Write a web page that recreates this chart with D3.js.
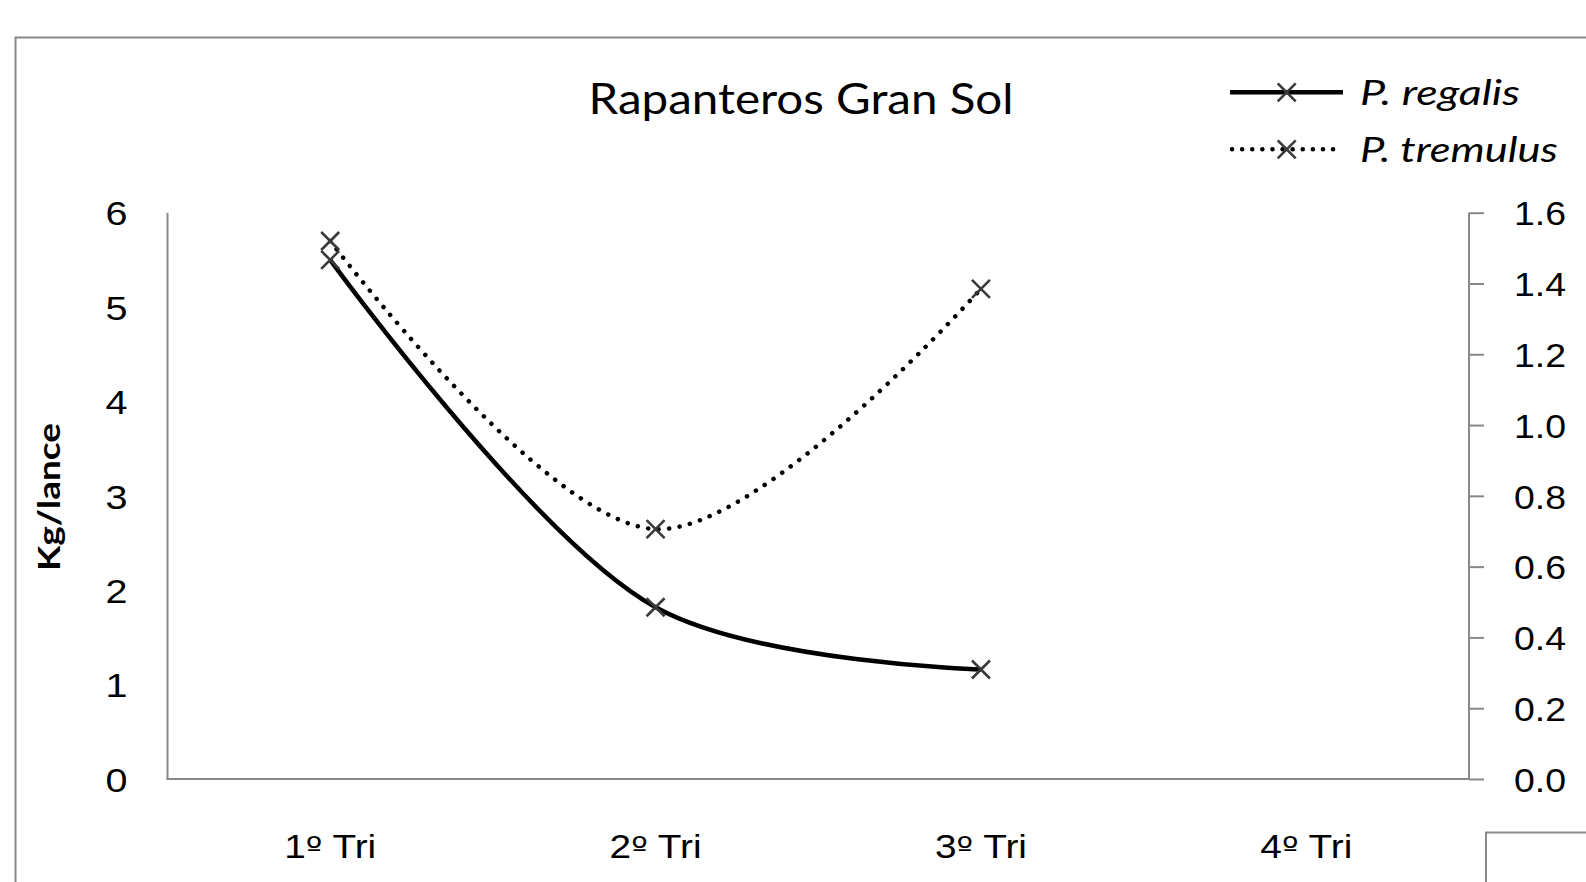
<!DOCTYPE html>
<html><head><meta charset="utf-8">
<script src="https://cdn.jsdelivr.net/npm/d3@7"></script>
<style>
html,body{margin:0;padding:0;background:#fff;}
svg{display:block;font-family:Lato,"Open Sans",sans-serif;}
</style></head>
<body>
<svg id="chart" width="1586" height="882"></svg>
<script>
const categories = ["1º Tri", "2º Tri", "3º Tri", "4º Tri"];
const regalis = [5.50, 1.82, 1.16];    // left axis (Kg/lance)
const tremulus = [1.52, 0.706, 1.385]; // right axis
const leftTicks = [0, 1, 2, 3, 4, 5, 6];
const rightTicks = [0, 0.2, 0.4, 0.6, 0.8, 1.0, 1.2, 1.4, 1.6];
const seriesNames = ["P. regalis", "P. tremulus"];
const title = "Rapanteros Gran Sol";
const yTitle = "Kg/lance";

const svg = d3.select("#chart");
const axisColor = "#898989";
const markColor = "#3a3a3a";
const L = 167.5, R = 1469, T = 212.7, B = 779;

// outer frame
svg.append("rect").attr("x", 15.5).attr("y", 37.5).attr("width", 1700).attr("height", 1000)
  .attr("fill", "none").attr("stroke", axisColor).attr("stroke-width", 2);
svg.append("rect").attr("x", 1486).attr("y", 832.5).attr("width", 300).attr("height", 200)
  .attr("fill", "none").attr("stroke", axisColor).attr("stroke-width", 2);

const x = d3.scaleBand().domain(categories).range([L, R]);
const yL = d3.scaleLinear().domain([0, 6]).range([B, T]);
const yR = d3.scaleLinear().domain([0, 1.6]).range([B, T]);

svg.append("line").attr("x1", L).attr("x2", L).attr("y1", T).attr("y2", B)
  .attr("stroke", axisColor).attr("stroke-width", 2);
svg.append("line").attr("x1", L - 1).attr("x2", R).attr("y1", B).attr("y2", B)
  .attr("stroke", axisColor).attr("stroke-width", 2);

const gL = svg.append("g").attr("transform", `translate(${L},0)`)
  .call(d3.axisLeft(yL).tickValues(leftTicks).tickSize(0).tickPadding(40).tickFormat(d3.format("d")));
gL.select(".domain").remove();
gL.selectAll("text").attr("font-size", 34).attr("fill", "#000").attr("dy", "0.36em")
  .attr("textLength", 22).attr("lengthAdjust", "spacingAndGlyphs");

const gR = svg.append("g").attr("transform", `translate(${R},0)`)
  .call(d3.axisRight(yR).tickValues(rightTicks).tickSize(15).tickPadding(30).tickFormat(d3.format(".1f")));
gR.select(".domain").attr("stroke", axisColor).attr("stroke-width", 2).attr("d", `M0,${T}V${B}`);
gR.selectAll(".tick line").attr("stroke", axisColor).attr("stroke-width", 2);
gR.selectAll("text").attr("font-size", 34).attr("fill", "#000").attr("dy", "0.36em")
  .attr("textLength", 52).attr("lengthAdjust", "spacingAndGlyphs");

const gX = svg.append("g").attr("transform", `translate(0,${B})`)
  .call(d3.axisBottom(x).tickSize(0).tickPadding(0));
gX.select(".domain").remove();
gX.selectAll("text").each(function (d) {
  const t = d3.select(this);
  t.text(null).attr("y", 79).attr("dy", 0).attr("font-size", 33).attr("fill", "#000")
    .attr("textLength", 92).attr("lengthAdjust", "spacingAndGlyphs");
  const parts = d.split("º");
  t.append("tspan").text(parts[0]);
  t.append("tspan").attr("font-family", "DejaVu Sans").attr("font-size", 30).text("º");
  t.append("tspan").text(parts[1]);
});

// title
svg.append("text").attr("x", 801).attr("y", 114).attr("text-anchor", "middle")
  .attr("font-size", 43).attr("fill", "#000")
  .attr("textLength", 425).attr("lengthAdjust", "spacingAndGlyphs").text(title);

// y title
svg.append("text").attr("transform", "translate(60,497) rotate(-90)")
  .attr("text-anchor", "middle").attr("font-weight", "bold").attr("font-size", 31)
  .attr("textLength", 148).attr("lengthAdjust", "spacingAndGlyphs")
  .attr("fill", "#000").text(yTitle);

// lines
const lineL = d3.line().x((d, i) => x(categories[i]) + x.bandwidth() / 2).y(d => yL(d)).curve(d3.curveCatmullRom.alpha(0.5));
const lineR = d3.line().x((d, i) => x(categories[i]) + x.bandwidth() / 2).y(d => yR(d)).curve(d3.curveCatmullRom.alpha(0.5));

svg.append("path").attr("d", lineR(tremulus)).attr("fill", "none").attr("stroke", "#000")
  .attr("stroke-width", 4.5).attr("stroke-linecap", "round").attr("stroke-dasharray", "0.1 10.5");
svg.append("path").attr("d", lineL(regalis)).attr("fill", "none").attr("stroke", "#000")
  .attr("stroke-width", 4.5);

function cross(g, cx, cy, s) {
  g.append("path").attr("d", `M${cx - s},${cy - s}L${cx + s},${cy + s}M${cx - s},${cy + s}L${cx + s},${cy - s}`)
    .attr("stroke", markColor).attr("stroke-width", 2.6).attr("fill", "none");
}
const mk = svg.append("g");
regalis.forEach((v, i) => cross(mk, x(categories[i]) + x.bandwidth() / 2, yL(v), 9));
tremulus.forEach((v, i) => cross(mk, x(categories[i]) + x.bandwidth() / 2, yR(v), 9));

// legend
const lg = svg.append("g");
const legY = [92.3, 149.3];
const legLen = [160, 198];
lg.append("line").attr("x1", 1230).attr("x2", 1343).attr("y1", legY[0]).attr("y2", legY[0])
  .attr("stroke", "#000").attr("stroke-width", 4.5);
lg.append("line").attr("x1", 1232).attr("x2", 1343).attr("y1", legY[1]).attr("y2", legY[1])
  .attr("stroke", "#000").attr("stroke-width", 4.5).attr("stroke-linecap", "round").attr("stroke-dasharray", "0.1 10");
cross(lg, 1286.7, legY[0], 9);
cross(lg, 1286.7, legY[1], 9);
seriesNames.forEach((n, i) => {
  lg.append("text").attr("x", 1360).attr("y", legY[i] + 12.5).attr("font-size", 34)
    .attr("font-style", "italic").attr("fill", "#000")
    .attr("textLength", legLen[i]).attr("lengthAdjust", "spacingAndGlyphs").text(n);
});
</script>
</body></html>
